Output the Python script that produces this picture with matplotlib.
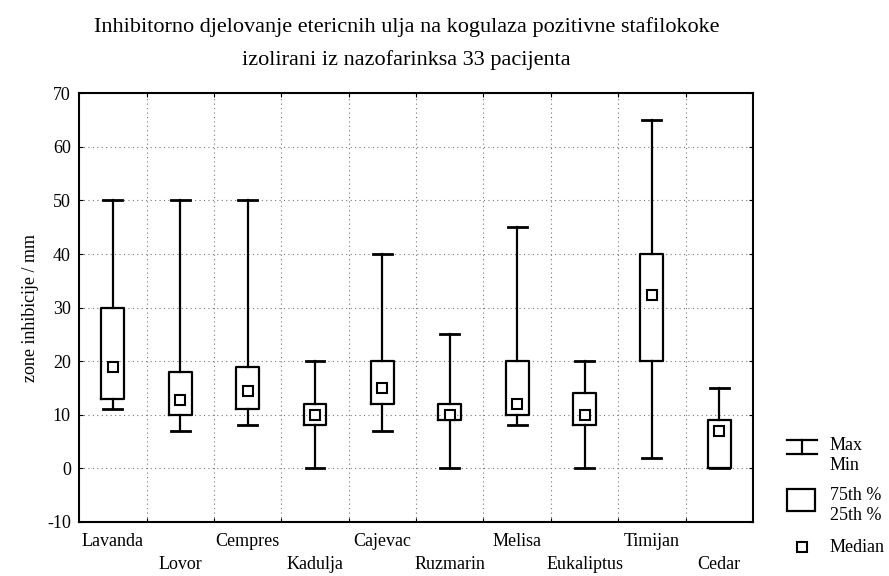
import matplotlib
matplotlib.use("Agg")
import matplotlib.pyplot as plt
import numpy as np

# Values (zone of inhibition, mm)
categories = ["Lavanda", "Lovor", "Cempres", "Kadulja", "Cajevac",
              "Ruzmarin", "Melisa", "Eukaliptus", "Timijan", "Cedar"]
maxima = [50, 50, 50, 20, 40, 25, 45, 20, 65, 15]
minima = [11, 7, 8, 0, 7, 0, 8, 0, 2, 0]
q75 = [30, 18, 19, 12, 20, 12, 20, 14, 40, 9]
q25 = [13, 10, 11, 8, 12, 9, 10, 8, 20, 0]
medians = [19, 12.7, 14.4, 10, 15, 10, 12, 10, 32.3, 7]

plt.rcParams['font.family'] = ['Liberation Serif', 'DejaVu Serif']
plt.rcParams['axes.unicode_minus'] = False

fig = plt.figure(figsize=(8.89, 5.76), dpi=100)
ax = fig.add_axes([0.089, 0.094, 0.758, 0.744])

stats = []
for i, name in enumerate(categories):
    stats.append({
        'label': name,
        'med': medians[i],
        'q1': q25[i],
        'q3': q75[i],
        'whislo': minima[i],
        'whishi': maxima[i],
        'fliers': [],
    })

pos = np.arange(1, len(categories) + 1)
line_kw = dict(color='black', linewidth=1.6)
ax.bxp(stats, positions=pos, widths=0.34, capwidths=0.28,
       showfliers=False, boxprops=line_kw, whiskerprops=line_kw,
       capprops=dict(color='black', linewidth=2.0),
       medianprops=dict(linewidth=0))
ax.plot(pos, medians, linestyle='none', marker='s', markersize=7,
        markerfacecolor='white', markeredgecolor='black', markeredgewidth=1.5,
        zorder=5)

ax.set_xlim(0.5, len(categories) + 0.5)
ax.set_ylim(-10, 70)
ax.set_yticks(np.arange(-10, 71, 10))
ax.tick_params(axis='y', labelsize=13, direction='in', right=True, length=3, pad=6)

# grid lines between the categories
ax.set_xticks(pos[:-1] + 0.5)
ax.set_xticklabels([])
ax.tick_params(axis='x', direction='in', top=True, length=3)
ax.grid(True, linestyle=(0, (1, 3)), color='#777777', linewidth=0.8)
ax.set_axisbelow(True)
for s in ax.spines.values():
    s.set_linewidth(1.5)

# staggered category labels
for i, name in enumerate(categories):
    y_off = -0.027 if i % 2 == 0 else -0.08
    ax.text(pos[i], y_off, name, transform=ax.get_xaxis_transform(),
            ha='center', va='top', fontsize=13)

ax.set_ylabel("zone inhibicije / mm", fontsize=13, labelpad=6)
fig.text(0.457, 0.953, "Inhibitorno djelovanje etericnih ulja na kogulaza pozitivne stafilokoke",
         ha='center', va='center', fontsize=16)
fig.text(0.457, 0.896, "izolirani iz nazofarinksa 33 pacijenta",
         ha='center', va='center', fontsize=16)

# legend drawn in pixel coordinates on an overlay
lg = fig.add_axes([0, 0, 1, 1])
lg.set_xlim(0, 889)
lg.set_ylim(576, 0)
lg.axis('off')
lg.plot([787, 817], [440, 440], color='black', lw=1.6)
lg.plot([787, 817], [454, 454], color='black', lw=1.6)
lg.plot([802, 802], [440, 454], color='black', lw=1.6)
lg.text(830, 446, "Max", fontsize=13, va='center')
lg.text(830, 466, "Min", fontsize=13, va='center')
lg.add_patch(plt.Rectangle((787, 489), 28, 22, fill=False, ec='black', lw=1.6))
lg.text(830, 496, "75th %", fontsize=13, va='center')
lg.text(830, 516, "25th %", fontsize=13, va='center')
lg.plot([802], [547], marker='s', markersize=7, markerfacecolor='white',
        markeredgecolor='black', markeredgewidth=1.5)
lg.text(830, 547, "Median", fontsize=13, va='center')

fig.savefig("out.png", dpi=100)
